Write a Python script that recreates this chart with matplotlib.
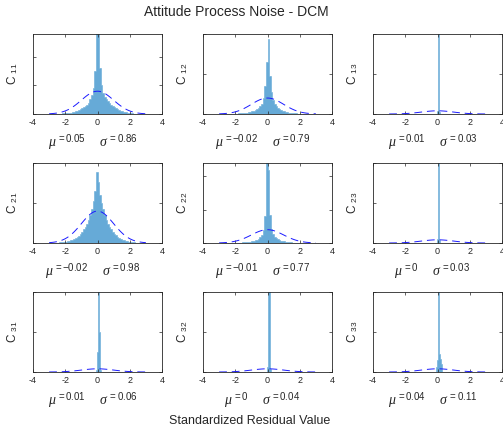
import numpy as np
import matplotlib
matplotlib.use('Agg')
import matplotlib.pyplot as plt

plt.rcParams['font.family'] = ['Liberation Sans', 'DejaVu Sans']
plt.rcParams['mathtext.fontset'] = 'custom'
plt.rcParams['mathtext.rm'] = 'Liberation Sans'
plt.rcParams['mathtext.it'] = 'Liberation Serif:italic'
plt.rcParams['mathtext.bf'] = 'Liberation Sans:bold'

# ---------------- data ----------------
names = ['11', '12', '13', '21', '22', '23', '31', '32', '33']
mu_txt = ['0.05', '-0.02', '0.01', '-0.02', '-0.01', '0', '0.01', '0', '0.04']
sigma_txt = ['0.86', '0.79', '0.03', '0.98', '0.77', '0.03', '0.06', '0.04', '0.11']

# histogram bin starts / widths (pdf-normalised heights)
bin_start = [-3.0, -3.0, -0.06, -3.0, -3.0, -0.06, -0.075, -0.02, -0.10]
bin_width = [0.1, 0.1, 0.08, 0.1, 0.1, 0.08, 0.05, 0.08, 0.05]

h11 = [0, 0, 0.002, 0.003, 0.004, 0.005, 0.006, 0.008, 0.010, 0.012,
       0.014, 0.017, 0.02, 0.024, 0.03, 0.036, 0.045, 0.055, 0.065, 0.08,
       0.10, 0.12, 0.14, 0.16, 0.20, 0.26, 0.33, 0.45, 0.75, 1.5,
       1.6, 0.80, 0.50, 0.36, 0.30, 0.26, 0.22, 0.19, 0.16, 0.14,
       0.12, 0.10, 0.085, 0.07, 0.055, 0.045, 0.035, 0.028, 0.022, 0.017,
       0.013, 0.01, 0.008, 0.006, 0.005, 0.004, 0.003, 0.002, 0.001, 0]
h12 = [0, 0, 0, 0.001, 0.002, 0.003, 0.004, 0.005, 0.006, 0.008,
       0.01, 0.012, 0.014, 0.017, 0.02, 0.025, 0.03, 0.036, 0.045, 0.055,
       0.07, 0.085, 0.10, 0.12, 0.15, 0.19, 0.26, 0.40, 0.70, 1.30,
       1.87, 0.95, 0.55, 0.36, 0.26, 0.20, 0.155, 0.12, 0.10, 0.08,
       0.065, 0.052, 0.042, 0.034, 0.027, 0.021, 0.017, 0.013, 0.01, 0.008,
       0.006, 0.005, 0.004, 0.003, 0.002, 0.001, 0, 0, 0, 0]
h13 = [0.4, 11.8, 0.3]
h21 = [0, 0.001, 0.002, 0.003, 0.004, 0.005, 0.007, 0.009, 0.011, 0.014,
       0.018, 0.022, 0.027, 0.033, 0.04, 0.05, 0.06, 0.075, 0.09, 0.11,
       0.14, 0.17, 0.2, 0.24, 0.29, 0.35, 0.42, 0.52, 0.65, 0.89,
       0.76, 0.6, 0.5, 0.42, 0.35, 0.29, 0.24, 0.2, 0.17, 0.14,
       0.115, 0.095, 0.078, 0.063, 0.05, 0.04, 0.032, 0.025, 0.02, 0.016,
       0.012, 0.009, 0.007, 0.005, 0.004, 0.003, 0.002, 0.001, 0.001, 0]
h22 = [0, 0, 0, 0, 0.001, 0.002, 0.003, 0.004, 0.005, 0.006,
       0.008, 0.01, 0.012, 0.014, 0.017, 0.02, 0.025, 0.03, 0.037, 0.045,
       0.055, 0.07, 0.085, 0.10, 0.13, 0.17, 0.24, 0.40, 0.80, 2.6,
       2.2, 0.85, 0.42, 0.26, 0.19, 0.145, 0.11, 0.09, 0.072, 0.058,
       0.047, 0.038, 0.03, 0.024, 0.019, 0.015, 0.012, 0.009, 0.007, 0.005,
       0.004, 0.003, 0.002, 0.001, 0.001, 0, 0, 0, 0, 0]
h23 = [0.5, 11.6, 0.4]
h31 = [0.3, 2.5, 11.0, 5.0, 1.0, 0.2]
h32 = [0.6, 11.5, 0.4]
h33 = [0.6, 1.5, 2.0, 11.0, 2.2, 1.6, 1.0, 0.4]
heights = [h11, h12, h13, h21, h22, h23, h31, h32, h33]

y_max = [1.4, 2.0, 10, 1.0, 2.4, 10, 10, 10, 10]
y_step = [0.5, 1.0, 5, 0.5, 1.0, 5, 5, 5, 5]

# reference standard normal curve N(0,1)
ref_mean, ref_std, ref_lo, ref_hi = 0.0, 1.0, -3.0, 3.0

x_ticks = [-4, -2, 0, 2, 4]

# ---------------- figure ----------------
W, H = 503, 429
fig = plt.figure(figsize=(W / 100, H / 100), dpi=100)

col_left = [33, 203, 373]
row_bottom = [114, 243, 372]
ax_w, ax_h = 129, 80

bar_color = '#66aad7'
dark = '#262626'

xs = np.linspace(ref_lo, ref_hi, 121)
pdf = np.exp(-0.5 * ((xs - ref_mean) / ref_std) ** 2) / (ref_std * np.sqrt(2 * np.pi))

for i in range(9):
    r, c = divmod(i, 3)
    ax = fig.add_axes([col_left[c] / W, 1 - row_bottom[r] / H, ax_w / W, ax_h / H])
    h = heights[i]
    edges = bin_start[i] + bin_width[i] * np.arange(len(h) + 1)
    ax.stairs(h, edges, fill=True, facecolor=bar_color, edgecolor=bar_color, linewidth=0.4)
    ax.plot(xs, pdf, color='#1a1aff', linewidth=0.7, linestyle=(0, (8, 5)))
    ax.set_xlim(-4, 4)
    ax.set_ylim(0, y_max[i])
    ax.set_xticks(x_ticks)
    ax.set_xticklabels([str(t) for t in x_ticks])
    ax.set_yticks(np.arange(0, y_max[i] + 1e-9, y_step[i]))
    ax.set_yticklabels([])
    ax.tick_params(direction='in', length=2.5, width=0.5, top=True, right=True,
                   labelsize=6.5, pad=3, colors=dark)
    for s in ax.spines.values():
        s.set_linewidth(0.6)
        s.set_color(dark)
    ax.set_ylabel(r'C $_{%s}$' % names[i], fontsize=8.5, labelpad=6, color=dark)
    lbl = (r'$\mu^{\mathrm{\,=%s}}$    $\sigma^{\mathrm{\,=%s}}$' % (mu_txt[i], sigma_txt[i]))
    ax.text(0.46, -33 / 80, lbl, transform=ax.transAxes, ha='center', va='baseline',
            fontsize=10, color=dark)

fig.text(236.5 / W, 1 - 12 / H, 'Attitude Process Noise - DCM', ha='center', va='center',
         fontsize=10, color=dark)
fig.text(249.5 / W, 1 - 421 / H, 'Standardized Residual Value', ha='center', va='center',
         fontsize=9, color=dark)

fig.savefig('out.png', dpi=100)
